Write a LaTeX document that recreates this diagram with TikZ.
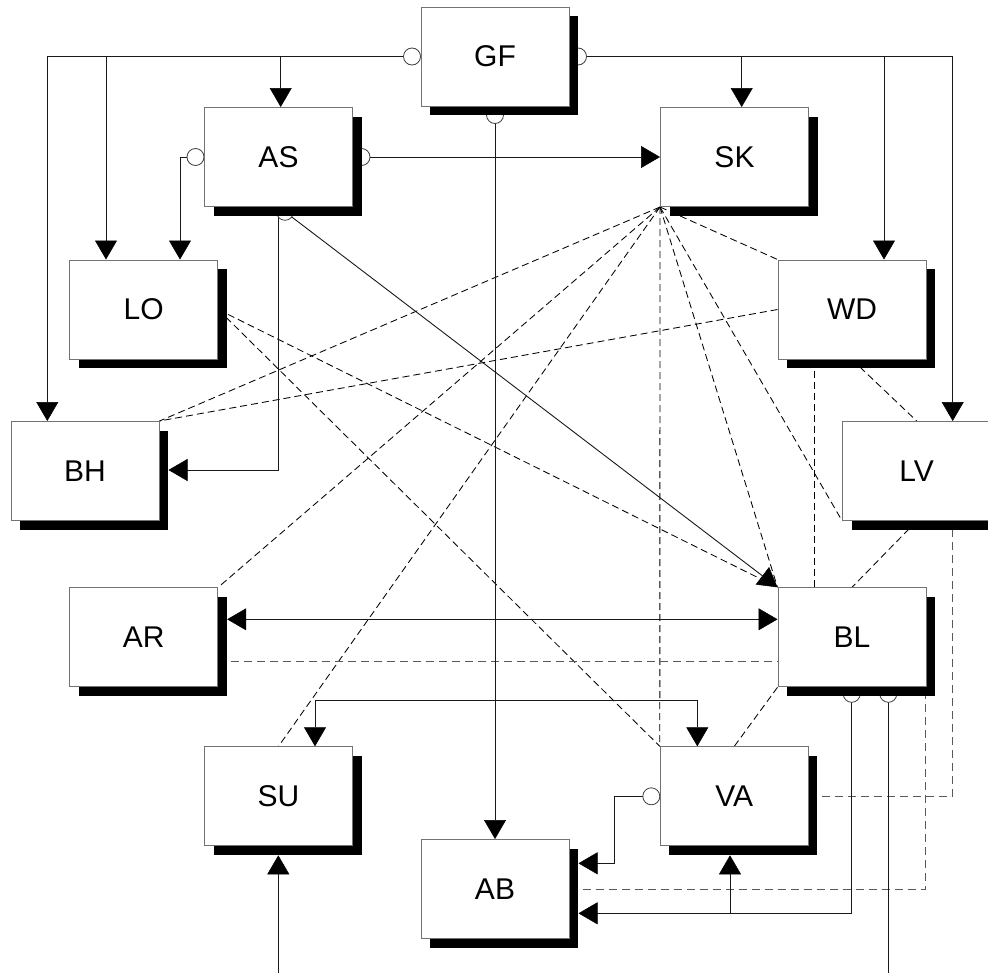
\documentclass[tikz,border=0pt]{standalone}
\usepackage{fontspec}
\setmainfont{Liberation Sans}
\usetikzlibrary{arrows.meta,shadows}
\pgfdeclarelayer{bg}
\pgfdeclarelayer{mid}
\pgfsetlayers{bg,mid,main}
\begin{document}
\begin{tikzpicture}[x=1pt,y=-1pt,
  box/.style={draw=black!55, line width=1pt, fill=white, minimum width=148pt, minimum height=99pt, inner sep=0pt,
    font=\fontsize{30}{36}\selectfont,
    general shadow={fill=black, shadow xshift=9pt, shadow yshift=-9pt}},
  lolli/.style={circle, draw=black!75, line width=0.8pt, fill=white, minimum size=17pt, inner sep=0pt},
  conn/.style={draw=black!90, line width=0.9pt},
  tip/.tip={Triangle[length=19pt,width=22pt,color=black,fill=black,line width=0.5pt]},
  arr/.style={conn, -tip},
  arrr/.style={conn, tip-tip},
  dl/.style={draw=black, line width=0.85pt, dash pattern=on 7pt off 4pt},
  gdl/.style={draw=black!65, line width=1pt, dash pattern=on 8pt off 5pt},
]
\useasboundingbox (0,0) rectangle (988,972);

% boxes
\node[box] (GF) at (495,56.5) {GF};
\node[box] (AS) at (278.5,157) {AS};
\node[box] (SK) at (734.5,157) {SK};
\node[box] (LO) at (143.7,309.5) {LO};
\node[box] (WD) at (852,309.5) {WD};
\node[box] (BH) at (85,471) {BH};
\node[box] (LV) at (916.7,471) {LV};
\node[box] (AR) at (143.7,637.3) {AR};
\node[box] (BL) at (852,637.3) {BL};
\node[box] (SU) at (278.5,796.3) {SU};
\node[box] (VA) at (734.3,796.3) {VA};
\node[box] (AB) at (495,889) {AB};

% lollipop circles
\begin{pgfonlayer}{mid}
\node[lolli] (cGFw) at ([xshift=-8.5pt]GF.west) {};
\node[lolli] (cGFe) at ([xshift=8.5pt]GF.east) {};
\node[lolli] (cGFs) at ([yshift=-8.5pt]GF.south) {};
\node[lolli] (cASw) at ([xshift=-8.5pt]AS.west) {};
\node[lolli] (cASe) at ([xshift=8.5pt]AS.east) {};
\node[lolli] (cASs) at ([xshift=6.5pt,yshift=-4.8pt]AS.south) {};
\node[lolli] (cBL1) at ([xshift=-0.3pt,yshift=-6.5pt]BL.south) {};
\node[lolli] (cBL2) at ([xshift=36.3pt,yshift=-6.5pt]BL.south) {};
\node[lolli] (cVAw) at ([xshift=-8.5pt]VA.west) {};
\end{pgfonlayer}

% helper coordinates
\coordinate (bhT) at ([xshift=-37.7pt]BH.north);
\coordinate (loT1) at ([xshift=-37.7pt]LO.north);
\coordinate (asT) at ([xshift=2.2pt]AS.north);
\coordinate (lvT) at ([xshift=36pt]LV.north);
\coordinate (skT) at ([xshift=7.2pt]SK.north);
\coordinate (wdT) at ([xshift=32pt]WD.north);
\coordinate (loT2) at ([xshift=36.3pt]LO.north);
\coordinate (asB) at ([xshift=-0.2pt]AS.south);
\coordinate (bhE) at ([xshift=9pt,yshift=1pt]BH.east);
\coordinate (arE) at ([xshift=9pt,yshift=18pt]AR.east);
\coordinate (blW) at ([yshift=18pt]BL.west);
\coordinate (suT) at ([xshift=36.5pt]SU.north);
\coordinate (vaT) at ([xshift=-37pt]VA.north);
\coordinate (inSU) at (278.3,976);
\coordinate (suB) at ([xshift=-0.2pt,yshift=-9pt]SU.south);
\coordinate (outBL) at (888.3,976);
\coordinate (abE2) at ([xshift=9pt,yshift=-24.3pt]AB.east);
\coordinate (vaB) at ([xshift=-4.3pt,yshift=-9pt]VA.south);
\coordinate (abE1) at ([xshift=9pt,yshift=25.7pt]AB.east);
\coordinate (wdB) at ([xshift=-37.7pt]WD.south);
\coordinate (blT) at ([xshift=-37.7pt]BL.north);
\coordinate (arE2) at ([yshift=-24.4pt]AR.east);
\coordinate (blW2) at ([yshift=-24.4pt]BL.west);
\coordinate (lvB) at ([xshift=36pt]LV.south);
\coordinate (blSE) at ([xshift=-1.3pt]BL.south east);

\begin{pgfonlayer}{bg}
% dashed relations
\draw[dl] (SK.south west) -- (BH.north east);
\draw[dl] (WD.west) -- (BH.north east);
\draw[dl] (SK.south west) -- (AR.north east);
\draw[dl] (SK.south west) -- (SU.north);
\draw[dl] (SK.south west) -- (VA.north west);
\draw[dl] (SK.south west) -- (WD.north west);
\draw[dl] (SK.south west) -- (LV.south west);
\draw[dl] (SK.south west) -- (BL.north west);
\draw[dl] (LO.east) -- (BL.north west);
\draw[dl] (LO.east) -- (VA.north west);
\draw[dl] (wdB) -- (blT);
\draw[dl] (WD.south) -- (LV.north);
\draw[dl] (LV.south) -- (BL.north);
\draw[dl] (BL.south west) -- (VA.north);
\draw[gdl] (arE2) -- (blW2);
\draw[gdl] (VA.east) -| (lvB);
\draw[gdl] (AB.east) -| (blSE);

% GF outputs
\draw[arr] (cGFw.center) -| (bhT);
\draw[arr] (loT1 |- cGFw) -- (loT1);
\draw[arr] (asT |- cGFw) -- (asT);
\draw[arr] (cGFe.center) -| (lvT);
\draw[arr] (skT |- cGFe) -- (skT);
\draw[arr] (wdT |- cGFe) -- (wdT);
\draw[arr] (cGFs.center) -- (AB.north);

% AS outputs
\draw[arr] (cASe.center) -- (SK.west);
\draw[arr] (cASw.center) -| (loT2);
\draw[arr] (asB |- cASs) |- (bhE);
\draw[arr] (cASs.center) -- (BL.north west);

% AR <-> BL
\draw[arrr] (arE) -- (blW);

% SU <-> VA
\draw[arrr] (suT) -- ++(0,-46) -| (vaT);

% external
\draw[arr] (inSU) -- (suB);
\draw[conn] (cBL2.center) -- (outBL);

% BL -> AB, VA
\draw[arr] (cBL1.center) |- (abE2);
\draw[arr] (vaB |- abE2) -- (vaB);

% VA -> AB
\draw[arr] (cVAw.center) -- ++(-36.7,0) |- (abE1);
\end{pgfonlayer}
\end{tikzpicture}
\end{document}
